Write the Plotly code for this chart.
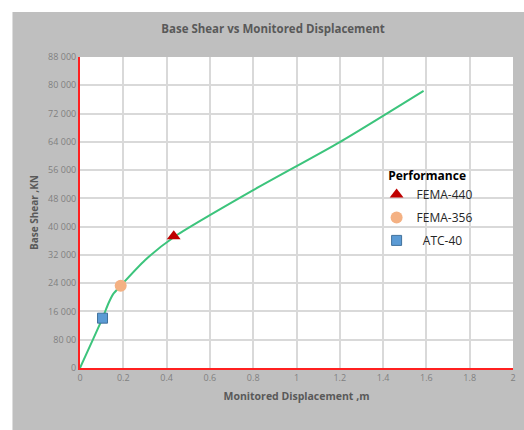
import plotly.graph_objects as go

# Curve data
curve_x = [0, 0.104, 0.13, 0.153, 0.188, 0.30, 0.433, 0.80, 1.20, 1.587]
curve_y = [0, 14100, 18100, 20900, 23300, 30500, 37000, 50300, 63900, 78400]

# Performance points
perf_names = ["FEMA-440", "FEMA-356", "  ATC-40"]
perf_x = [0.433, 0.188, 0.104]
perf_y = [37300, 23300, 14100]

y_ticks = [0, 8000, 16000, 24000, 32000, 40000, 48000, 56000, 64000, 72000, 80000, 88000]
y_tick_text = ["0", "80 00", "16 000", "24 000", "32 000", "40 000", "48 000",
               "56 000", "64 000", "72 000", "80 000", "88 000"]
x_ticks = [0, 0.2, 0.4, 0.6, 0.8, 1, 1.2, 1.4, 1.6, 1.8, 2]
x_tick_text = ["0", "0.2", "0.4", "0.6", "0.8", "1", "1.2", "1.4", "1.6", "1.8", "2"]

fig = go.Figure()
fig.add_trace(go.Scatter(x=curve_x, y=curve_y, mode="lines",
                         line=dict(color="#3cc47c", width=2, shape="spline", smoothing=0.6),
                         showlegend=False, hoverinfo="skip"))

styles = [
    dict(symbol="triangle-up", color="#c00000", size=12, line=dict(width=0)),
    dict(symbol="circle", color="#f4b183", size=12, line=dict(width=0)),
    dict(symbol="square", color="#5b9bd5", size=10, line=dict(color="#41719c", width=1)),
]
for i, (n, xv, yv, st) in enumerate(zip(perf_names, perf_x, perf_y, styles)):
    fig.add_trace(go.Scatter(x=[xv], y=[yv], mode="markers", name=n, marker=st,
                             legendgroup="g%d" % i))

grid = "#d9d9d9"
fig.update_layout(
    width=524, height=430,
    margin=dict(l=80, r=8, t=57, b=62),
    paper_bgcolor="#bfbfbf",
    plot_bgcolor="white",
    font=dict(family="Open Sans, sans-serif", color="#595959"),
    title=dict(text="<b>Base Shear vs Monitored Displacement</b>",
               x=273 / 524, xref="container", xanchor="center", y=1 - 29 / 430, yref="container",
               yanchor="middle", font=dict(size=11.5, color="#595959")),
    xaxis=dict(range=[0, 2], tickvals=x_ticks, ticktext=x_tick_text,
               showgrid=True, gridcolor=grid, gridwidth=1.5, zeroline=False,
               showline=True, linecolor="#ff2020", linewidth=2,
               tickfont=dict(size=9, color="#7f7f7f"), ticks="",
               title=dict(text="<b>Monitored Displacement ,m</b>",
                          font=dict(size=10.5, color="#595959"), standoff=10)),
    yaxis=dict(range=[0, 88000], tickvals=y_ticks, ticktext=y_tick_text,
               showgrid=True, gridcolor=grid, gridwidth=1.5, zeroline=False,
               showline=True, linecolor="#ff2020", linewidth=2,
               tickfont=dict(size=9, color="#7f7f7f"), ticks="",
               title=dict(text="<b>Base Shear ,KN</b>",
                          font=dict(size=10, color="#595959"), standoff=8)),
    legend=dict(x=0.685, y=0.655, xanchor="left", yanchor="top",
                bgcolor="rgba(0,0,0,0)",
                title=dict(text="<b>Performance</b>", side="top center",
                           font=dict(size=12, color="#000000")),
                font=dict(size=12, color="#262626"),
                tracegroupgap=4, itemwidth=30),
    shapes=[
        dict(type="rect", xref="paper", yref="paper",
             x0=-0.3, x1=1.1, y0=(368 - 12) / 311, y1=1.3,
             fillcolor="white", line=dict(width=0), layer="above"),
        dict(type="rect", xref="paper", yref="paper",
             x0=-0.3, x1=(12 - 80) / 436, y0=-0.3, y1=1.3,
             fillcolor="white", line=dict(width=0), layer="above"),
    ],
)

fig.write_html("out.html")
